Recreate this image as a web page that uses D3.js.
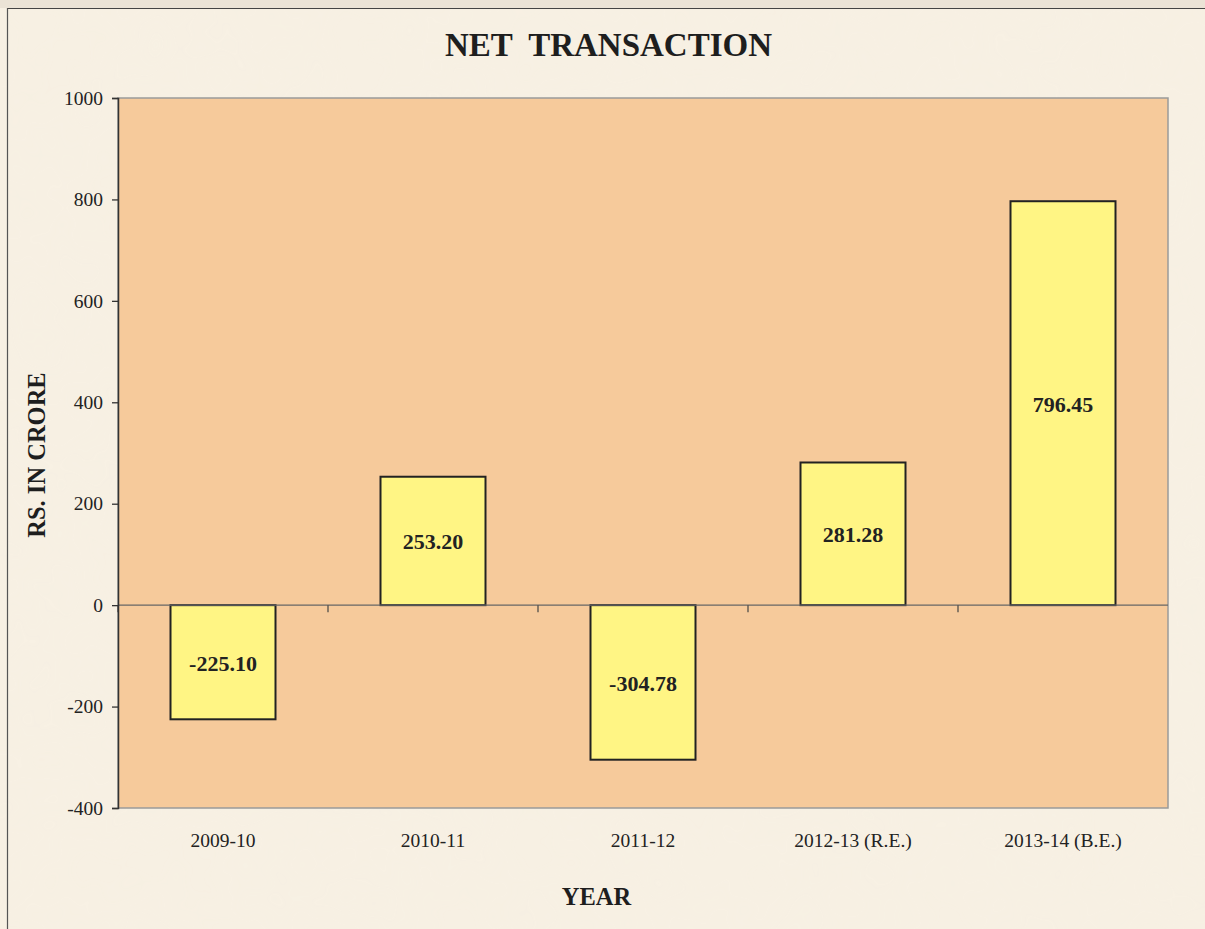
<!DOCTYPE html>
<html>
<head>
<meta charset="utf-8">
<script src="https://cdn.jsdelivr.net/npm/d3@7"></script>
<style>
  html, body { margin: 0; padding: 0; background: #f6efe2; }
  svg { display: block; }
</style>
</head>
<body>
<script>
const categories = ["2009-10", "2010-11", "2011-12", "2012-13 (R.E.)", "2013-14 (B.E.)"];
const values = [-225.10, 253.20, -304.78, 281.28, 796.45];
const valueLabels = ["-225.10", "253.20", "-304.78", "281.28", "796.45"];
const yTicks = [-400, -200, 0, 200, 400, 600, 800, 1000];
const chartTitle = "NET  TRANSACTION";
const xTitle = "YEAR";
const yTitle = "RS. IN CRORE";

const W = 1205, H = 929;
const plot = { left: 118, right: 1168, top: 98, bottom: 808 };
const serif = "'Liberation Serif', 'Times New Roman', Times, serif";

const svg = d3.select("body").append("svg").attr("width", W).attr("height", H);

// paper texture
const defs = svg.append("defs");
const f = defs.append("filter").attr("id", "paper").attr("x", 0).attr("y", 0).attr("width", "100%").attr("height", "100%");
f.append("feTurbulence").attr("type", "fractalNoise").attr("baseFrequency", 0.012).attr("numOctaves", 3).attr("seed", 4).attr("result", "noise");
f.append("feColorMatrix").attr("in", "noise").attr("type", "matrix")
  .attr("values", "0 0 0 0 0.93  0 0 0 0 0.88  0 0 0 0 0.78  0 0 0 0.9 -0.25");

svg.append("rect").attr("width", W).attr("height", H).attr("fill", "#f7f0e3");
svg.append("rect").attr("width", W).attr("height", H).attr("filter", "url(#paper)").attr("opacity", 0.4);
// top strip
svg.append("rect").attr("x", 0).attr("y", 0).attr("width", W).attr("height", 8).attr("fill", "#ebe3d6");
svg.append("line").attr("x1", 7).attr("x2", W).attr("y1", 8.5).attr("y2", 8.5).attr("stroke", "#444").attr("stroke-width", 1.2);
svg.append("line").attr("x1", 7.5).attr("x2", 7.5).attr("y1", 8).attr("y2", H).attr("stroke", "#555").attr("stroke-width", 1.2);

const x = d3.scaleBand().domain(categories).range([plot.left, plot.right]).paddingInner(0.5).paddingOuter(0.25);
const y = d3.scaleLinear().domain([-400, 1000]).range([plot.bottom, plot.top]);

// plot area
svg.append("rect")
  .attr("x", plot.left).attr("y", plot.top)
  .attr("width", plot.right - plot.left).attr("height", plot.bottom - plot.top)
  .attr("fill", "#f6ca9b").attr("stroke", "#9a9a9a").attr("stroke-width", 1.5);

// bars
svg.append("g").selectAll("rect").data(values).join("rect")
  .attr("x", (d, i) => x(categories[i]))
  .attr("width", x.bandwidth())
  .attr("y", d => y(Math.max(0, d)))
  .attr("height", d => Math.abs(y(d) - y(0)))
  .attr("fill", "#fff584").attr("stroke", "#222").attr("stroke-width", 2);

// zero axis line with category boundary ticks
const zeroY = y(0);
svg.append("line").attr("x1", plot.left).attr("x2", plot.right).attr("y1", zeroY).attr("y2", zeroY)
  .attr("stroke", "#666").attr("stroke-width", 1.2);
const step = x.step();
const bounds = d3.range(categories.length + 1).map(i => plot.left + i * step);
svg.append("g").selectAll("line").data(bounds.slice(0, -1)).join("line")
  .attr("x1", d => d).attr("x2", d => d).attr("y1", zeroY).attr("y2", zeroY + 7)
  .attr("stroke", "#444").attr("stroke-width", 1.2);

// y axis
const yAxis = svg.append("g").attr("transform", `translate(${plot.left},0)`)
  .call(d3.axisLeft(y).tickValues(yTicks).tickFormat(d => String(d)).tickSize(6).tickPadding(9));
yAxis.select(".domain").attr("stroke", "#333").attr("stroke-width", 1.5);
yAxis.selectAll(".tick line").attr("stroke", "#333").attr("stroke-width", 1.3);
yAxis.selectAll("text").attr("font-family", serif).attr("font-size", "19.5px").attr("fill", "#222");

// x tick labels
svg.append("g").selectAll("text").data(categories).join("text")
  .attr("x", d => x(d) + x.bandwidth() / 2).attr("y", 847)
  .attr("text-anchor", "middle").attr("font-family", serif).attr("font-size", "19.5px").attr("fill", "#222")
  .text(d => d);

// value labels
svg.append("g").selectAll("text").data(values).join("text")
  .attr("x", (d, i) => x(categories[i]) + x.bandwidth() / 2)
  .attr("y", d => (y(d) + y(0)) / 2 + 8.5)
  .attr("text-anchor", "middle").attr("font-family", serif).attr("font-weight", "bold")
  .attr("font-size", "22px").attr("fill", "#222")
  .text((d, i) => valueLabels[i]);

// titles
svg.append("text").attr("x", 608.5).attr("y", 55.5).attr("text-anchor", "middle")
  .attr("font-family", serif).attr("font-weight", "bold").attr("font-size", "33px").attr("fill", "#1e1e1e")
  .attr("xml:space", "preserve").style("white-space", "pre")
  .text(chartTitle);
svg.append("text").attr("x", 596.5).attr("y", 905).attr("text-anchor", "middle")
  .attr("font-family", serif).attr("font-weight", "bold").attr("font-size", "24.5px").attr("fill", "#1e1e1e")
  .text(xTitle);
svg.append("text").attr("transform", "translate(45,455) rotate(-90)").attr("text-anchor", "middle")
  .attr("font-family", serif).attr("font-weight", "bold").attr("font-size", "24.5px").attr("fill", "#1e1e1e")
  .text(yTitle);
</script>
</body>
</html>
